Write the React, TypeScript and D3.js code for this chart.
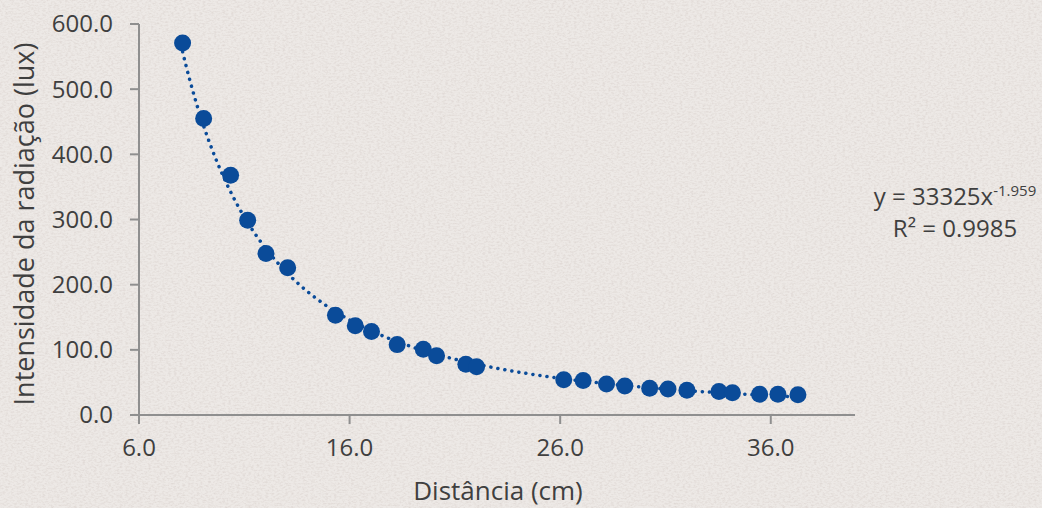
import React, { useEffect } from 'react';
import * as d3 from 'd3';

// distance (cm)
const distances = [
  8.07, 9.07, 10.35, 11.16, 12.03, 13.06, 15.33, 16.27, 17.04, 18.26, 19.5, 20.13, 21.52,
  22.03, 26.17, 27.09, 28.2, 29.07, 30.25, 31.12, 32.02, 33.54, 34.18, 35.47, 36.34, 37.29,
];
// radiation intensity (lux)
const intensities = [
  571, 455, 368, 299, 248, 226, 153, 137, 128, 108, 101, 91, 78, 74, 54, 53, 47.5, 44.5, 41,
  40, 38, 36, 34, 32, 32, 31,
];
const xTicks = [6, 16, 26, 36];
const yTicks = [0, 100, 200, 300, 400, 500, 600];
const fitCoef = 33325;
const fitExp = -1.959;

const W = 1042,
  H = 508;
const FONT = "'Open Sans', 'Noto Sans', sans-serif";
const BLUE = '#0a4b99';
const TEXT = '#3f3f3f';
const AXIS = '#8f8f8f';

const App = () => {
  useEffect(() => {
    document.body.style.margin = '0';
  }, []);

  const x = d3.scaleLinear().domain([6, 40]).range([139, 855]);
  const y = d3.scaleLinear().domain([0, 600]).range([415, 24]);

  const pts = distances.map((d, i) => ({ d, v: intensities[i] }));

  // power trendline sampled along the fitted x range
  const x0 = d3.min(distances) as number,
    x1 = d3.max(distances) as number;
  const trend = d3.range(0, 201).map((k) => {
    const xv = x0 + ((x1 - x0) * k) / 200;
    return [xv, fitCoef * Math.pow(xv, fitExp)] as [number, number];
  });
  const line = d3
    .line<[number, number]>()
    .x((p) => x(p[0]))
    .y((p) => y(p[1]));

  const fmt = d3.format('.1f');

  return (
    <svg width={W} height={H} style={{ display: 'block' }} fontFamily={FONT}>
      <defs>
        <filter id="paper" x="0" y="0" width="100%" height="100%">
          <feTurbulence type="fractalNoise" baseFrequency="0.35 0.6" numOctaves="3" seed="7" result="n" />
          <feColorMatrix
            in="n"
            type="matrix"
            values="0 0 0 0 0.62  0 0 0 0 0.55  0 0 0 0 0.52  0 0 0 -0.9 0.55"
            result="c"
          />
          <feComposite in="c" in2="SourceGraphic" operator="over" />
        </filter>
      </defs>
      <rect width={W} height={H} fill="#ede9e6" filter="url(#paper)" />

      {/* axes */}
      <line x1={x(6)} x2={x(6)} y1={y(600)} y2={y(0)} stroke={AXIS} strokeWidth={2} />
      <line x1={x(6)} x2={x(40)} y1={y(0)} y2={y(0)} stroke={AXIS} strokeWidth={2} />
      {yTicks.map((t) => (
        <g key={'y' + t}>
          <line x1={x(6) - 9} x2={x(6)} y1={y(t)} y2={y(t)} stroke={AXIS} strokeWidth={2} />
          <text x={113} y={y(t)} dy="0.35em" textAnchor="end" fontSize={24} fill={TEXT}>
            {fmt(t)}
          </text>
        </g>
      ))}
      {xTicks.map((t) => (
        <g key={'x' + t}>
          <line x1={x(t)} x2={x(t)} y1={y(0)} y2={y(0) + 9} stroke={AXIS} strokeWidth={2} />
          <text x={x(t)} y={456} textAnchor="middle" fontSize={24} fill={TEXT}>
            {fmt(t)}
          </text>
        </g>
      ))}

      {/* titles */}
      <text
        transform={`translate(34,224) rotate(-90)`}
        textAnchor="middle"
        fontSize={27}
        fill={TEXT}
      >
        Intensidade da radiação (lux)
      </text>
      <text x={498} y={500} textAnchor="middle" fontSize={26} fill={TEXT}>
        Distância (cm)
      </text>

      {/* trendline */}
      <path
        d={line(trend) || ''}
        fill="none"
        stroke={BLUE}
        strokeWidth={3.5}
        strokeDasharray="0.1 7"
        strokeLinecap="round"
      />

      {/* points */}
      {pts.map((p, i) => (
        <circle key={i} cx={x(p.d)} cy={y(p.v)} r={8.5} fill={BLUE} />
      ))}

      {/* equation */}
      <text x={955} y={205} textAnchor="middle" fontSize={24} fill={TEXT}>
        y = 33325x
        <tspan fontSize={15} dy={-9}>
          -1.959
        </tspan>
      </text>
      <text x={955} y={237} textAnchor="middle" fontSize={24} fill={TEXT}>
        R² = 0.9985
      </text>
    </svg>
  );
};

export default App;
